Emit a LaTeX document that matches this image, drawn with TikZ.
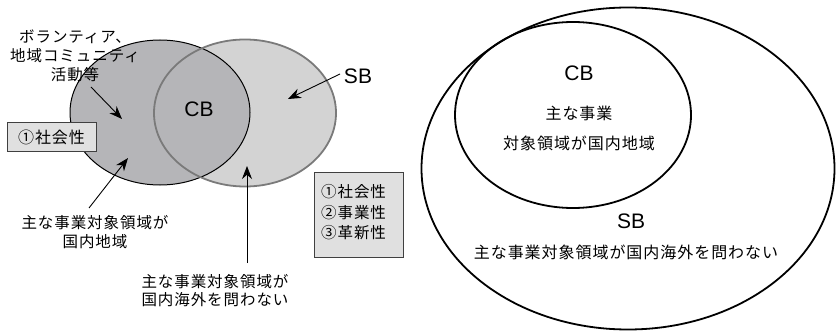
\documentclass[tikz,border=0pt]{standalone}
\usepackage{fontspec}
\setmainfont{Liberation Sans}
\newfontfamily\jp{Noto Sans CJK JP}[LetterSpace=6]
\usetikzlibrary{arrows.meta}
\definecolor{darkfill}{HTML}{B5B5B8}
\definecolor{lightfill}{HTML}{D3D3D3}
\definecolor{ringgray}{HTML}{7A7A7A}
\definecolor{boxfill}{HTML}{E0E0E0}
\definecolor{boxline}{HTML}{404040}
\tikzset{
  jtext/.style={font=\jp\fontsize{15.5}{18.5}\selectfont, align=center, inner sep=0pt},
  latin/.style={font=\fontsize{21}{24}\selectfont, inner sep=0pt},
  gbox/.style={draw=boxline, fill=boxfill, line width=1pt, inner sep=0pt},
  pointer/.style={line width=0.9pt, -{Stealth[length=13pt,width=10pt]}},
  bigring/.style={draw=black, line width=1.8pt},
}
\begin{document}
\begin{tikzpicture}[x=1pt,y=-1pt]
\useasboundingbox (0,0) rectangle (837,331);
% left diagram
\fill[lightfill] (245,113) ellipse [x radius=91, y radius=73.5];
\fill[darkfill] (160,112.5) ellipse [x radius=90, y radius=72.5];
\draw[black, line width=1pt] (160,112.5) ellipse [x radius=90, y radius=72.5];
\draw[ringgray, line width=1.8pt] (245,113) ellipse [x radius=91, y radius=73.5];

\node[latin] (cbl) at (199,109) {CB};
\node[latin] (sbl) at (358,76) {SB};
\node[jtext, font=\jp\fontsize{15.5}{19}\selectfont] (vol) at (75,56) {ボランティア、\\地域コミュニティ\\活動等};
\node[gbox, minimum width=89pt, minimum height=29pt, font=\jp\fontsize{16}{20}\selectfont] (box1) at (51.5,137.5) {①社会性};
\node[gbox, minimum width=89pt, minimum height=84pt] (box3) at (358.5,215) {};
\node[jtext, font=\jp\fontsize{15.5}{20.5}\selectfont, align=left, anchor=west] (box3t) at (321,212.5) {①社会性\\②事業性\\③革新性};
\node[jtext, font=\jp\fontsize{15.5}{19}\selectfont] (lab1) at (95,232) {主な事業対象領域が\\国内地域};
\node[jtext, font=\jp\fontsize{15.5}{18}\selectfont] (lab2) at (215,291) {主な事業対象領域が\\国内海外を問わない};

\coordinate (volS) at (91,87);
\coordinate (volT) at (122,119);
\coordinate (sbS) at (340,74);
\coordinate (sbT) at (288,99);
\coordinate (l1S) at (89,208);
\coordinate (l1T) at (128,158);
\coordinate (l2S) at (247,263);
\coordinate (l2T) at (247,166);
\draw[pointer] (volS) -- (volT);
\draw[pointer] (sbS) -- (sbT);
\draw[pointer] (l1S) -- (l1T);
\draw[pointer] (l2S) -- (l2T);

% right diagram
\draw[bigring] (628,168.5) ellipse [x radius=206.5, y radius=161];
\draw[bigring] (573,115) ellipse [x radius=118, y radius=93];
\node[latin] (cbr) at (579,73) {CB};
\node[jtext, font=\jp\fontsize{16}{18}\selectfont] (cbr1) at (579,113) {主な事業};
\node[jtext, font=\jp\fontsize{16}{18}\selectfont] (cbr2) at (579,143) {対象領域が国内地域};
\node[latin] (sbr) at (631,221) {SB};
\node[jtext, font=\jp\fontsize{16}{18}\selectfont] (sbr1) at (626,252) {主な事業対象領域が国内海外を問わない};
\end{tikzpicture}
\end{document}
